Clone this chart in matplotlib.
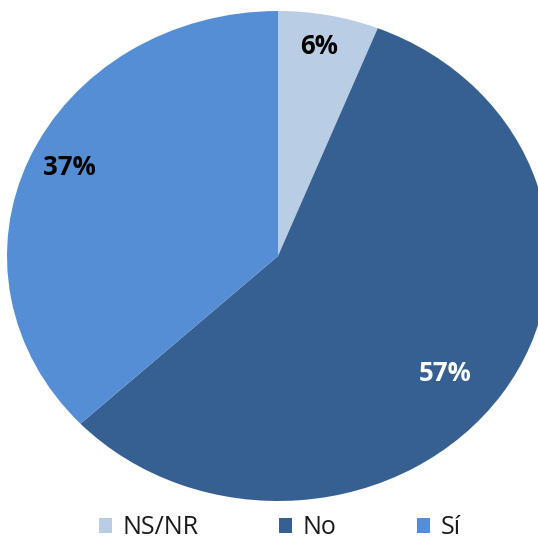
import matplotlib
matplotlib.use("Agg")
import matplotlib.pyplot as plt
from matplotlib.patches import Patch

categories = ["NS/NR", "No", "Sí"]
values = [6, 57, 37]
colors = ["#B9CDE5", "#376092", "#558ED5"]
label_colors = ["black", "white", "black"]
# label positions (data coords, unit pie)
label_pos = [(0.15, 0.855), (0.616, -0.478), (-0.768, 0.36)]

W, H = 538, 541
fig = plt.figure(figsize=(W / 100, H / 100), dpi=100)
ax = fig.add_axes([0, 0, 1, 1])

cx, cy, rx, ry = 278, 256, 271, 245
wedges, texts, autotexts = ax.pie(values, colors=colors, startangle=90, counterclock=False,
                                  autopct=lambda p: f"{p:.0f}%", pctdistance=0.8,
                                  wedgeprops=dict(linewidth=0))
for t, pos, c in zip(autotexts, label_pos, label_colors):
    t.set_position(pos)
    t.set_color(c)
    t.set_fontsize(18.5)
    t.set_fontweight("bold")
    t.set_family(["Open Sans", "DejaVu Sans"])

ax.set_aspect("auto")
ax.set_xlim((0 - cx) / rx, (W - cx) / rx)
ax.set_ylim((cy - H) / ry, (cy - 0) / ry)
ax.axis("off")

handles = [Patch(facecolor=c, edgecolor="none") for c in colors]
fig.legend(handles, categories, loc="center", bbox_to_anchor=(0.52, 1 - 528 / H), ncol=3,
           frameon=False, prop={"family": ["Open Sans", "DejaVu Sans"], "size": 18},
           handlelength=0.52, handleheight=0.52, handletextpad=0.44, columnspacing=3.2,
           labelcolor="#1a1a1a")

fig.savefig("out.png", dpi=100)
